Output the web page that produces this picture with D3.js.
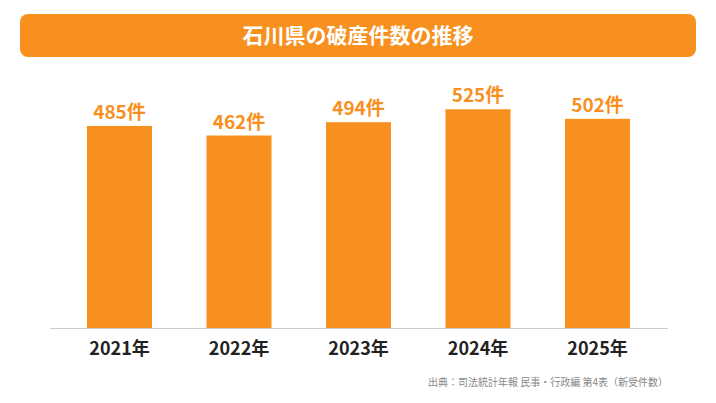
<!DOCTYPE html>
<html><head><meta charset="utf-8">
<script src="https://cdn.jsdelivr.net/npm/d3@7"></script>
<style>body{margin:0;background:#fff}</style></head>
<body><script>
const categories=["2021年","2022年","2023年","2024年","2025年"];
const values=[485,462,494,525,502];
const title="石川県の破産件数の推移";
const source="出典：司法統計年報 民事・行政編 第4表（新受件数）";
const W=716,H=403,orange="#F7901E";
const svg=d3.select("body").append("svg").attr("width",W).attr("height",H);
const font="'Noto Sans CJK JP','Noto Sans',sans-serif";
svg.append("rect").attr("x",20).attr("y",14).attr("width",676).attr("height",43).attr("rx",8).attr("fill",orange);
svg.append("text").attr("x",358).attr("y",43).attr("text-anchor","middle").attr("fill","#fff")
 .attr("font-family",font).attr("font-weight","bold").attr("font-size",21).text(title);
const x=d3.scaleBand().domain(categories).range([59.75,657.25]).paddingInner(0.456).paddingOuter(0.228);
const y=d3.scaleLinear().domain([0,600]).range([328,78]);
svg.selectAll(".bar").data(values).join("rect").attr("x",(d,i)=>x(categories[i])).attr("width",x.bandwidth())
 .attr("y",d=>y(d)).attr("height",d=>y(0)-y(d)).attr("fill",orange);
svg.selectAll(".lbl").data(values).join("text").attr("x",(d,i)=>x(categories[i])+x.bandwidth()/2).attr("y",d=>y(d)-7)
 .attr("text-anchor","middle").attr("fill",orange).attr("font-family",font).attr("font-weight","bold").attr("font-size",19).text(d=>d+"件");
svg.append("line").attr("x1",50).attr("x2",668).attr("y1",328.5).attr("y2",328.5).attr("stroke","#ccc");
const ax=svg.append("g").attr("transform","translate(0,328)").call(d3.axisBottom(x).tickSize(0).tickPadding(14));
ax.select(".domain").remove();
ax.selectAll("text").attr("font-family",font).attr("font-weight","bold").attr("font-size",18).attr("fill","#222");
svg.append("text").attr("x",668).attr("y",386).attr("text-anchor","end").attr("fill","#888").attr("font-family",font).attr("font-size",10).text(source);
</script></body></html>
